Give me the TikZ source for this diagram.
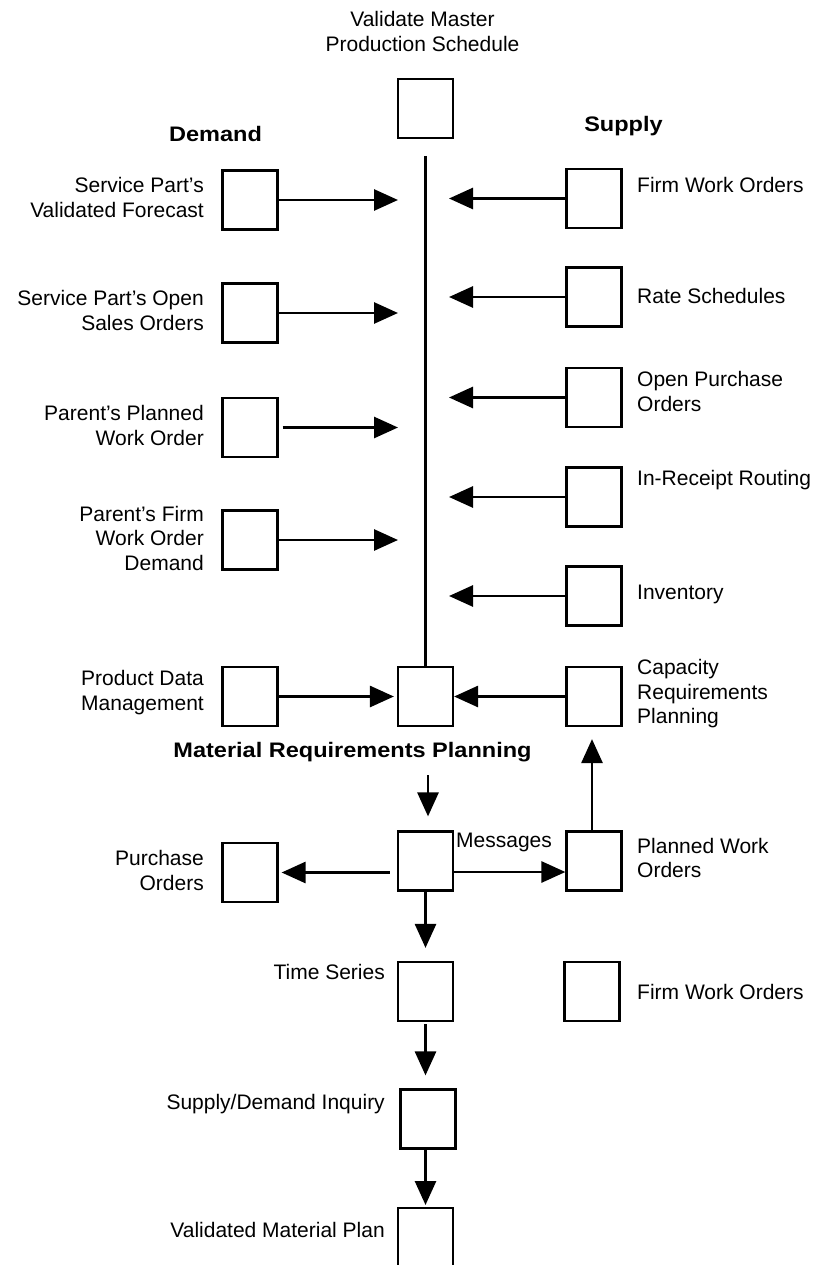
\documentclass[tikz,border=0pt]{standalone}
\usepackage{fontspec}
\setmainfont{Liberation Sans}
\newfontfamily\headfont[FakeStretch=1.12]{Liberation Sans Bold}
\usetikzlibrary{arrows.meta}

\begin{document}
\begin{tikzpicture}[x=1pt,y=-1pt,
  box/.style={draw, line width=2.2pt, minimum width=55pt, minimum height=59pt, inner sep=0pt},
  lbl/.style={font=\fontsize{21}{24.5}\selectfont, inner sep=0pt},
  lft/.style={lbl, anchor=east, align=right},
  rgt/.style={lbl, anchor=west, align=left},
  head/.style={font=\headfont\fontsize{21}{24.5}\selectfont, inner sep=0pt},
  arr/.style={line width=2.8pt, -{Triangle[length=24pt,width=21pt]}},
  spine/.style={line width=3.6pt}]

\path[fill=white, use as bounding box] (0,0) rectangle (814,1265);

% title and column headings
\node[lbl, align=center] (title) at (422.5,31.5) {Validate Master\\Production Schedule};
\node[head] (demand) at (215.5,134) {Demand};
\node[head] (supply) at (623.5,126) {Supply};

% central column
\node[box] (vmps) at (425.5,108.5) {};
\node[box] (mrp) at (425.5,696.5) {};
\node[box] (msg) at (425.5,861) {};
\node[box] (ts) at (425.5,991.5) {};
\node[box] (sd) at (428,1119) {};
\node[box, minimum height=63pt, anchor=north] (vmp) at (425.5,1207) {};

% demand boxes
\node[box] (d1) at (250,200) {};
\node[box] (d2) at (250,313) {};
\node[box] (d3) at (250,427.5) {};
\node[box] (d4) at (250,540) {};
\node[box] (pdm) at (250,696.5) {};
\node[box] (po) at (250,872.5) {};

% supply boxes
\node[box] (s1) at (594,198.5) {};
\node[box] (s2) at (594,297) {};
\node[box] (s3) at (594,397.5) {};
\node[box] (s4) at (594,497) {};
\node[box] (s5) at (594,596) {};
\node[box] (crp) at (594,696.5) {};
\node[box] (pwo) at (594,861) {};
\node[box] (fwo) at (592,991.5) {};

% box captions
\node[lft] (ld1) at (204,197.5) {Service Part's\\Validated Forecast};
\node[lft] (ld2) at (204,310.5) {Service Part's Open\\Sales Orders};
\node[lft] (ld3) at (204,425.5) {Parent's Planned\\Work Order};
\node[lft] (ld4) at (204,538) {Parent's Firm\\Work Order\\Demand};
\node[lft] (lpdm) at (204,692.5) {Product Data\\Management};
\node[lft] (lpo) at (204,870.5) {Purchase\\Orders};
\node[lft] (lts) at (385,972) {Time Series};
\node[lft] (lsd) at (385,1104) {Supply/Demand Inquiry};
\node[lft] (lvmp) at (385,1230) {Validated Material Plan};
\node[head] (lmrp) at (352.5,752) {Material Requirements Planning};
\node[rgt] (lmsg) at (456,842) {Messages};

\node[rgt] (ls1) at (637,185) {Firm Work Orders};
\node[rgt] (ls2) at (637,296) {Rate Schedules};
\node[rgt] (ls3) at (637,391.5) {Open Purchase\\Orders};
\node[rgt] (ls4) at (637,480) {In-Receipt Routing};
\node[rgt] (ls5) at (637,594) {Inventory};
\node[rgt] (lcrp) at (637,694) {Capacity\\Requirements\\Planning};
\node[rgt] (lpwo) at (637,858) {Planned Work\\Orders};
\node[rgt] (lfwo) at (637,992) {Firm Work Orders};

% spine down to MRP
\coordinate (spinetop) at (425.5,156);
\draw[spine] (spinetop) -- (mrp.north);

% arrow tips short of the spine
\coordinate (dtip) at (398,0);
\coordinate (stip) at (449,0);

\draw[arr] (d1.east) -- (d1 -| dtip);
\draw[arr] (d2.east) -- (d2 -| dtip);
\draw[arr, shorten <=4pt] (d3.east) -- (d3 -| dtip);
\draw[arr] (d4.east) -- (d4 -| dtip);
\draw[arr, shorten >=3pt] (pdm) -- (mrp);

\draw[arr] (s1.west) -- (s1 -| stip);
\draw[arr] (s2.west) -- (s2 -| stip);
\draw[arr] (s3.west) -- (s3 -| stip);
\draw[arr] (s4.west) -- (s4 -| stip);
\draw[arr] (s5.west) -- (s5 -| stip);
\draw[arr] (crp) -- (mrp);

% MRP outputs
\draw[arr, shorten <=48pt, shorten >=14pt] ([xshift=2.5pt]mrp.south) -- ([xshift=2.5pt]msg.north);
\draw[arr, shorten <=7pt, shorten >=3pt] (po -| msg.west) -- (po.east);
\draw[arr] ([xshift=-2pt, yshift=-11pt]msg.east) -- ([yshift=-11pt]pwo.west);
\draw[arr, shorten >=12pt] ([xshift=-2pt]pwo.north) -- ([xshift=-2pt]crp.south);
\draw[arr, shorten >=13pt] (msg) -- (ts);
\draw[arr, shorten <=2pt, shorten >=13pt] (ts.south) -- (ts.south |- sd.north);
\draw[arr, shorten >=2pt] (vmp.north |- sd.south) -- (vmp.north);

\end{tikzpicture}
\end{document}
